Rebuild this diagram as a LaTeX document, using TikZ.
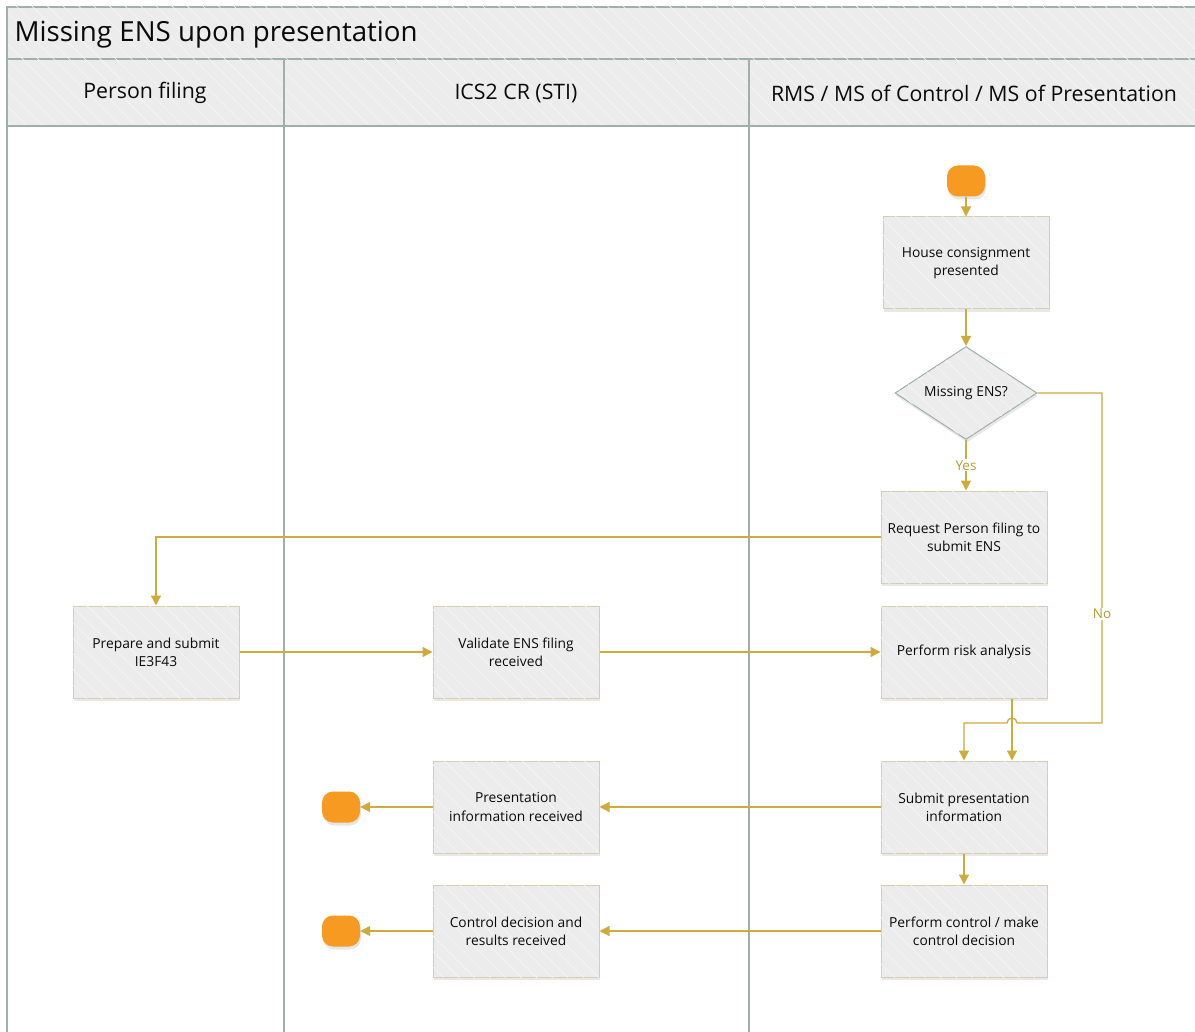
\documentclass[tikz,border=0pt]{standalone}
\usepackage{fontspec}
\setmainfont{Open Sans}
\usetikzlibrary{shapes.geometric,shadows,patterns.meta,arrows.meta,calc}

\definecolor{bandfill}{RGB}{236,236,236}
\definecolor{laneline}{RGB}{158,176,168}
\definecolor{boxfill}{RGB}{236,236,236}
\definecolor{boxline}{RGB}{214,206,176}
\definecolor{flowcol}{RGB}{205,172,60}
\definecolor{labelcol}{RGB}{184,154,52}
\definecolor{termcol}{RGB}{247,154,34}
\definecolor{textcol}{RGB}{10,10,10}

\tikzset{
  hatch/.style={postaction={pattern={Lines[angle=-45,distance=11pt,line width=0.6pt]},pattern color=white!55!bandfill}},
  band/.style={fill=bandfill, draw=laneline, line width=1.4pt, hatch},
  laneedge/.style={draw=laneline, line width=1.8pt},
  proc/.style={draw=boxline, line width=1pt, fill=boxfill, hatch,
    minimum width=166pt, minimum height=92pt, inner sep=2pt, align=center,
    text=textcol, font=\fontsize{13.8}{18}\selectfont,
    drop shadow={shadow xshift=1pt, shadow yshift=-3pt, opacity=0.18}},
  decision/.style={diamond, draw=laneline, line width=1pt, fill=boxfill, hatch,
    aspect=1.5, inner sep=0pt, minimum width=142pt, minimum height=93pt,
    text=textcol, font=\fontsize{13.8}{18}\selectfont,
    drop shadow={shadow xshift=1pt, shadow yshift=-3pt, opacity=0.18}},
  terminal/.style={fill=termcol, rounded corners=11pt, minimum width=38pt,
    minimum height=31pt, inner sep=0pt,
    drop shadow={shadow xshift=1pt, shadow yshift=-3pt, opacity=0.2}},
  flow/.style={draw=flowcol, line width=1.3pt, -{Triangle[width=10pt,length=10pt]}},
  flowlabel/.style={fill=white, inner sep=1pt, text=labelcol, font=\fontsize{13.5}{16}\selectfont},
  lanehead/.style={text=textcol, font=\fontsize{21.3}{25}\selectfont},
}

\begin{document}
\begin{tikzpicture}[x=1pt,y=-1pt]
  \useasboundingbox (0,0) rectangle (1195,1032);
  \clip (0,0) rectangle (1195,1032);
  \fill[white] (0,0) rectangle (1195,1032);

  % pool title band and lane headers
  \path[band] (7,7) rectangle (1205,59);
  \path[band] (7,59) rectangle (1205,126);
  \node[anchor=west, text=textcol, font=\fontsize{27.7}{32}\selectfont] (title) at (11,35) {Missing ENS upon presentation};

  % lane separators
  \draw[laneedge] (7,7) -- (7,1040);
  \draw[laneedge] (284,59) -- (284,1040);
  \draw[laneedge] (749,59) -- (749,1040);
  \draw[laneedge] (7,126) -- (1205,126);

  \node[lanehead] (h1) at (145,93) {Person filing};
  \node[lanehead] (h2) at (516,93) {ICS2 CR (STI)};
  \node[lanehead] (h3) at (974,93) {RMS / MS of Control / MS of Presentation};

  % activities
  \node[terminal] (start) at (966,181) {};
  \node[proc] (house) at (966,263) {House consignment\\presented};
  \node[decision] (dia) at (966,393) {Missing ENS?};
  \node[proc] (req) at (964,537) {Request Person filing to\\submit ENS};
  \node[proc] (risk) at (964,652) {Perform risk analysis};
  \node[proc] (submit) at (964,807) {Submit presentation\\information};
  \node[proc] (control) at (964,931) {Perform control / make\\control decision};

  \node[proc] (prep) at (156,652) {Prepare and submit\\IE3F43};

  \node[proc] (valid) at (516,652) {Validate ENS filing\\received};
  \node[proc] (presrec) at (516,807) {Presentation\\information received};
  \node[proc] (ctrlrec) at (516,931) {Control decision and\\results received};

  \node[terminal] (end1) at (341,807) {};
  \node[terminal] (end2) at (341,931) {};

  % sequence flows
  \draw[flow] (start) -- (house);
  \draw[flow] (house) -- (dia);
  \draw[flow] (dia.south) -- node[flowlabel]{Yes} (dia.south |- req.north);
  \draw[flow] (req.west) -| (prep.north);
  \draw[flow] (prep) -- (valid);
  \draw[flow] (valid) -- (risk);

  \coordinate (nocorner) at (1102,393);
  \coordinate (nobend) at (1102,723);
  \coordinate (hopright) at (1017,723);
  \coordinate (nodrop) at (964,723);
  \draw[flow] (dia.east) -- (nocorner)
      -- node[flowlabel, pos=0.67]{No} (nobend)
      -- (hopright) arc[start angle=0, end angle=-180, radius=5]
      -- (nodrop) -- (submit.north);
  \draw[flow] ([xshift=48pt]risk.south) -- ([xshift=48pt]submit.north);

  \draw[flow] (submit) -- (presrec);
  \draw[flow] (presrec) -- (end1);
  \draw[flow] (submit) -- (control);
  \draw[flow] (control) -- (ctrlrec);
  \draw[flow] (ctrlrec) -- (end2);
\end{tikzpicture}
\end{document}
